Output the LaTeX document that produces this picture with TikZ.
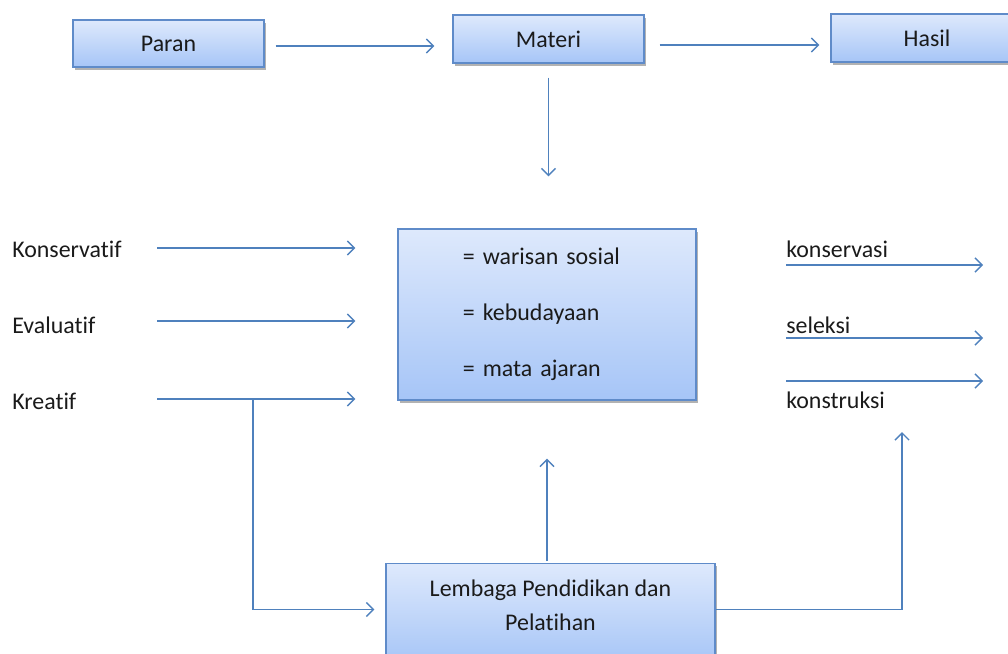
\documentclass[tikz,border=0pt]{standalone}
\usepackage{fontspec}
\setmainfont{Carlito}[Ligatures=NoCommon]
\usetikzlibrary{positioning,calc,arrows.meta,shadows}
\definecolor{boxtop}{HTML}{DEE9FC}
\definecolor{boxbot}{HTML}{A6C5F7}
\definecolor{boxline}{HTML}{5F8BC9}
\definecolor{arrcol}{HTML}{4F81BD}
\definecolor{txtcol}{HTML}{1A1A1A}
\tikzset{
  kotak/.style={draw=boxline,line width=0.8pt,top color=boxtop,bottom color=boxbot,
    drop shadow={shadow xshift=1.2pt,shadow yshift=-2pt,fill=black,opacity=0.3},
    font=\fontsize{17}{20}\selectfont,text=txtcol,inner sep=0pt},
  teks/.style={font=\fontsize{17}{20}\selectfont,text=txtcol,inner sep=0pt},
  panah/.style={draw=arrcol,line width=1pt,-{Straight Barb[length=5pt,width=10pt]}},
  garis/.style={draw=arrcol,line width=1pt}
}

\begin{document}
\begin{tikzpicture}[x=0.025cm,y=-0.025cm]
  \useasboundingbox (0,0) rectangle (1008,653);
  \clip (0,0) rectangle (1008,653);

  \node[kotak,minimum width=4.775cm,minimum height=1.175cm] (paran) at (168.5,43.5) {Paran};
  \node[kotak,minimum width=4.775cm,minimum height=1.2cm] (materi) at (548.5,39) {Materi};
  \node[kotak,minimum width=4.8cm,minimum height=1.2cm] (hasil) at (927,38) {Hasil};
  \node[kotak,minimum width=7.45cm,minimum height=4.275cm,text width=4.2cm,align=left,
    font=\fontsize{17}{39.8}\selectfont] (isi) at (547,314.5)
    {= warisan sosial\\= kebudayaan\\= mata ajaran};
  \node[kotak,minimum width=8.225cm,minimum height=2.5cm,anchor=north,align=center,
    text depth=11.7pt,font=\fontsize{17}{24.2}\selectfont] (lembaga) at (550.5,563)
    {Lembaga Pendidikan dan\\Pelatihan};

  \node[teks,anchor=base west] (konservatif) at (12,257) {Konservatif};
  \node[teks,anchor=base west] (evaluatif) at (12,333) {Evaluatif};
  \node[teks,anchor=base west] (kreatif) at (12,409) {Kreatif};
  \node[teks,anchor=base west] (konservasi) at (786,257) {konservasi};
  \node[teks,anchor=base west] (seleksi) at (786,333) {seleksi};
  \node[teks,anchor=base west] (konstruksi) at (786,408) {konstruksi};

  \coordinate (kiri) at (157,0);
  \coordinate (cabang) at (253,0);
  \coordinate (kanan) at (983,0);
  \coordinate (naik) at (902,432);

  \draw[panah,shorten <=0.275cm,shorten >=0.45cm] ($(paran.east)+(0,2.5)$) -- ($(paran.east -| materi.west)+(0,2.5)$);
  \draw[panah,shorten <=0.375cm,shorten >=0.275cm] ($(materi.east)+(0,6)$) -- ($(materi.east -| hasil.west)+(0,6)$);
  \draw[panah,shorten <=0.35cm,shorten >=1.3cm] (materi.south) -- (materi.south |- isi.north);

  \draw[panah,shorten >=1.05cm] ($(konservatif.base -| kiri)+(0,-9)$) -- ($(konservatif.base -| isi.west)+(0,-9)$);
  \draw[panah,shorten >=1.05cm] ($(evaluatif.base -| kiri)+(0,-12)$) -- ($(evaluatif.base -| isi.west)+(0,-12)$);
  \draw[panah,shorten >=1.05cm] ($(kreatif.base -| kiri)+(0,-10)$) -- ($(kreatif.base -| isi.west)+(0,-10)$);
  \draw[panah,shorten >=0.275cm] ($(kreatif.base -| cabang)+(0,-10)$) |- ($(lembaga.west)+(0,-4)$);

  \draw[panah,shorten <=0.05cm,shorten >=1.45cm] (lembaga.north -| isi.south) -- (isi.south);
  \draw[panah] ($(lembaga.east)+(0,-4)$) -| (naik);

  \draw[panah] ($(konservasi.base west)+(0,8)$) -- ($(konservasi.base -| kanan)+(0,8)$);
  \draw[panah] ($(seleksi.base west)+(0,5)$) -- ($(seleksi.base -| kanan)+(0,5)$);
  \draw[panah] ($(konstruksi.base west)+(0,-27)$) -- ($(konstruksi.base -| kanan)+(0,-27)$);
\end{tikzpicture}
\end{document}
